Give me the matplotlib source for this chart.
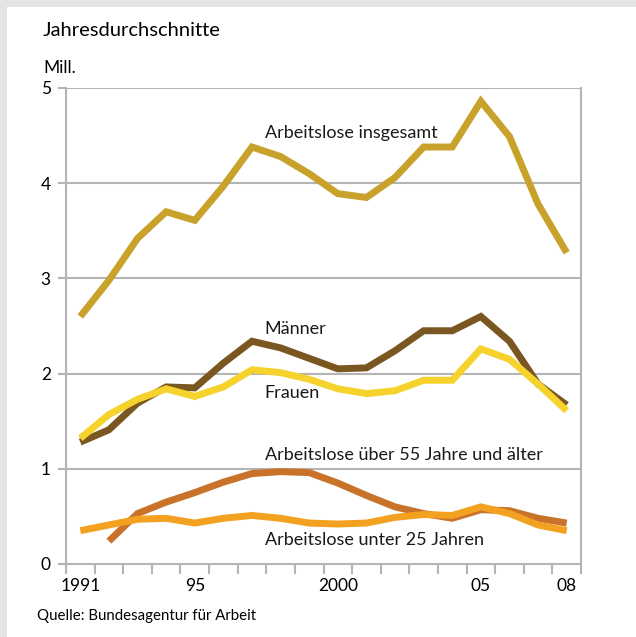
import numpy as np
import matplotlib
matplotlib.use('Agg')
import matplotlib.pyplot as plt
from matplotlib.patches import Rectangle

plt.rcParams['font.family'] = ['Lato', 'DejaVu Sans']

years = list(range(1991, 2009))
insgesamt = [2.60, 2.98, 3.42, 3.70, 3.61, 3.97, 4.38, 4.28, 4.10, 3.89,
             3.85, 4.06, 4.38, 4.38, 4.86, 4.49, 3.78, 3.27]
maenner = [1.28, 1.41, 1.69, 1.86, 1.85, 2.11, 2.34, 2.27, 2.16, 2.05,
           2.06, 2.24, 2.45, 2.45, 2.60, 2.34, 1.89, 1.67]
frauen = [1.32, 1.57, 1.73, 1.84, 1.76, 1.86, 2.04, 2.01, 1.94, 1.84,
          1.79, 1.82, 1.93, 1.93, 2.26, 2.15, 1.89, 1.61]
years_55 = list(range(1992, 2009))
ueber55 = [0.24, 0.53, 0.65, 0.75, 0.86, 0.95, 0.97, 0.96, 0.85,
           0.72, 0.60, 0.53, 0.48, 0.57, 0.56, 0.48, 0.43]
unter25 = [0.35, 0.41, 0.47, 0.48, 0.43, 0.48, 0.51, 0.48, 0.43, 0.42,
           0.43, 0.49, 0.52, 0.51, 0.60, 0.53, 0.41, 0.35]

tick_labels = {1991: '1991', 1995: '95', 2000: '2000', 2005: '05', 2008: '08'}

grid_col = '#b4b4b4'

fig = plt.figure(figsize=(6.36, 6.37), dpi=100)
fig.patch.set_facecolor('white')
# gray frame strips at top and left
fig.patches.append(Rectangle((0, 1 - 7 / 637), 1, 7 / 637, transform=fig.transFigure,
                             facecolor='#e4e4e4', edgecolor='none', zorder=0))
fig.patches.append(Rectangle((0, 0), 7 / 636, 1, transform=fig.transFigure,
                             facecolor='#e4e4e4', edgecolor='none', zorder=0))

ax = fig.add_axes([66 / 636, 73 / 637, 515 / 636, 476 / 637])
ax.set_xlim(1990.5, 2008.5)
ax.set_ylim(0, 5)

for y in range(1, 6):
    ax.axhline(y, color=grid_col, lw=1.5, zorder=1)

kw = dict(lw=5, solid_joinstyle='miter', solid_capstyle='butt', zorder=3)
ax.plot(years, insgesamt, color='#c9a22c', **kw)
ax.plot(years, maenner, color='#7a5620', **kw)
ax.plot(years, frauen, color='#f5d22c', **kw)
ax.plot(years_55, ueber55, color='#c9732a', **kw)
ax.plot(years, unter25, color='#f3a120', **kw)

txt = dict(fontsize=13, color='#1a1a1a', va='center', ha='left')
lx = 1997.45
ax.text(lx, 4.53, 'Arbeitslose insgesamt', **txt)
ax.text(lx, 2.47, 'Männer', **txt)
ax.text(lx, 1.80, 'Frauen', **txt)
ax.text(lx, 1.14, 'Arbeitslose über 55 Jahre und älter', **txt)
ax.text(lx, 0.25, 'Arbeitslose unter 25 Jahren', **txt)

for s in ['left', 'right', 'bottom']:
    ax.spines[s].set_color(grid_col)
    ax.spines[s].set_linewidth(1.5)
ax.spines['top'].set_visible(False)

ax.set_yticks(range(0, 6))
ax.set_yticklabels([str(v) for v in range(0, 6)], fontsize=12.5)
ax.tick_params(axis='y', length=6, width=1.5, color=grid_col, pad=5)

ax.set_xticks(np.arange(1990.5, 2009.5, 1), minor=True)
ax.set_xticks(list(tick_labels.keys()))
ax.set_xticklabels(list(tick_labels.values()), fontsize=12.5)
ax.tick_params(axis='x', which='major', length=0, pad=10)
ax.tick_params(axis='x', which='minor', length=7, width=1.5, color=grid_col)

fig.text(43 / 636, 1 - 31 / 637, 'Jahresdurchschnitte', fontsize=14.5, va='center', ha='left')
fig.text(43 / 636, 1 - 68 / 637, 'Mill.', fontsize=12.5, va='center', ha='left')
fig.text(37 / 636, 1 - 616 / 637, 'Quelle: Bundesagentur für Arbeit', fontsize=10.8, va='center', ha='left')

fig.savefig('out.png', dpi=100)
